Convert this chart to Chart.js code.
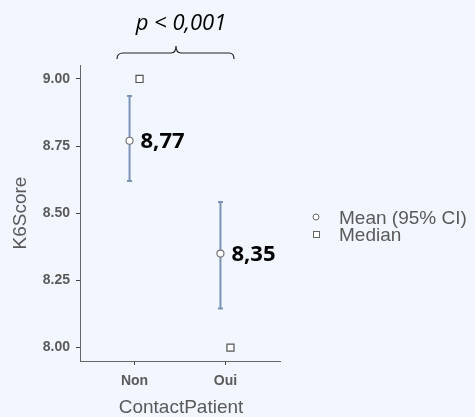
<!DOCTYPE html>
<html>
<head>
<meta charset="utf-8">
<script src="https://cdn.jsdelivr.net/npm/chart.js@4/dist/chart.umd.min.js"></script>
<style>
  html, body { margin: 0; padding: 0; background: #f2f6fe; }
  #wrap { width: 475px; height: 417px; position: relative; }
</style>
</head>
<body>
<div id="wrap"><canvas id="myChart"></canvas></div>
<script>
// data
const categories = ["Non", "Oui"];
const means = [8.77, 8.35];
const ciLow = [8.62, 8.145];
const ciHigh = [8.937, 8.542];
const medians = [9.0, 8.0];
const yTicks = [8.0, 8.25, 8.5, 8.75, 9.0];

const dodge = 0.055;
const gray = "#5a5a5a";
const barColor = "#7c93b8";

const meanPoints = categories.map((c, i) => ({ x: i + 1 - dodge, y: means[i] }));
const medianPoints = categories.map((c, i) => ({ x: i + 1 + dodge, y: medians[i] }));

// background + error bars + labels
const extras = {
  id: "extras",
  beforeDraw(chart) {
    const ctx = chart.ctx;
    ctx.save();
    ctx.fillStyle = "#f2f6fe";
    ctx.fillRect(0, 0, chart.width, chart.height);
    ctx.restore();
  },
  beforeDatasetsDraw(chart) {
    const ctx = chart.ctx;
    const xs = chart.scales.x;
    const ys = chart.scales.y;
    ctx.save();
    ctx.strokeStyle = barColor;
    ctx.lineWidth = 2;
    categories.forEach((c, i) => {
      const px = xs.getPixelForValue(i + 1 - dodge);
      const top = ys.getPixelForValue(ciHigh[i]);
      const bot = ys.getPixelForValue(ciLow[i]);
      ctx.beginPath();
      ctx.moveTo(px, top);
      ctx.lineTo(px, bot);
      ctx.moveTo(px - 2.5, top);
      ctx.lineTo(px + 2.5, top);
      ctx.moveTo(px - 2.5, bot);
      ctx.lineTo(px + 2.5, bot);
      ctx.stroke();
    });
    ctx.restore();
  },
  afterDraw(chart) {
    const ctx = chart.ctx;
    const xs = chart.scales.x;
    const ys = chart.scales.y;
    ctx.save();
    // mean labels
    ctx.fillStyle = "#000";
    ctx.font = "bold 22px 'Open Sans'";
    ctx.textBaseline = "middle";
    ctx.textAlign = "left";
    categories.forEach((c, i) => {
      const px = xs.getPixelForValue(i + 1 - dodge);
      const py = ys.getPixelForValue(means[i]);
      ctx.fillText(means[i].toFixed(2).replace(".", ","), px + 11, py + 1);
    });

    // p value + brace
    ctx.font = "italic 22px 'Open Sans'";
    ctx.textAlign = "center";
    ctx.fillText("p < 0,001", 181, 24);
    ctx.strokeStyle = "#222";
    ctx.lineWidth = 1.2;
    ctx.beginPath();
    ctx.moveTo(117, 59);
    ctx.quadraticCurveTo(117, 53, 123, 53);
    ctx.lineTo(171, 53);
    ctx.quadraticCurveTo(176, 53, 176, 46);
    ctx.quadraticCurveTo(176, 53, 181, 53);
    ctx.lineTo(229, 53);
    ctx.quadraticCurveTo(234, 53, 234, 59);
    ctx.stroke();

    // axis titles
    ctx.fillStyle = gray;
    ctx.font = "19px 'Liberation Sans'";
    ctx.fillText("ContactPatient", 181, 408);
    ctx.save();
    ctx.translate(21, 213);
    ctx.rotate(-Math.PI / 2);
    ctx.font = "19px 'Liberation Sans'";
    ctx.fillText("K6Score", 0, 0);
    ctx.restore();

    // legend
    ctx.textAlign = "left";
    ctx.font = "19px 'Liberation Sans'";
    ctx.fillText("Mean (95% CI)", 339, 219);
    ctx.fillText("Median", 339, 236);
    ctx.strokeStyle = "#666";
    ctx.lineWidth = 1;
    ctx.fillStyle = "#fff";
    ctx.beginPath();
    ctx.arc(316, 217, 3, 0, Math.PI * 2);
    ctx.fill();
    ctx.stroke();
    ctx.fillRect(313, 231, 6, 6);
    ctx.strokeRect(313.5, 231.5, 6, 6);
    ctx.restore();
  },
};

const ctx = document.getElementById("myChart").getContext("2d");
const myChart = new Chart(ctx, {
  type: "scatter",
  data: {
    datasets: [
      {
        label: "Mean (95% CI)",
        data: meanPoints,
        pointStyle: "circle",
        pointRadius: 3.5,
        pointBackgroundColor: "#fff",
        pointBorderColor: "#777",
        pointBorderWidth: 1.2,
      },
      {
        label: "Median",
        data: medianPoints,
        pointStyle: "rect",
        pointRadius: 5,
        pointBackgroundColor: "#fff",
        pointBorderColor: "#555",
        pointBorderWidth: 1.2,
      },
    ],
  },
  options: {
    responsive: true,
    maintainAspectRatio: false,
    animation: false,
    events: [],
    layout: { padding: { left: 0, top: 65, right: 195, bottom: 0 } },
    plugins: {
      legend: { display: false },
      tooltip: { enabled: false },
    },
    scales: {
      x: {
        type: "linear",
        min: 0.4,
        max: 2.6,
        afterFit(scale) {
          scale.height = 56;
        },
        afterBuildTicks(scale) {
          scale.ticks = categories.map((c, i) => ({ value: i + 1 }));
        },
        ticks: {
          color: gray,
          font: { family: "Liberation Sans", size: 14, weight: "bold" },
          padding: 8,
          callback: (v) => categories[v - 1],
        },
        grid: { drawOnChartArea: false, drawTicks: true, tickLength: 4, color: "#444" },
        border: { display: true, color: "#666", width: 1 },
      },
      y: {
        min: 7.95,
        max: 9.052,
        afterFit(scale) {
          scale.width = 80;
        },
        afterBuildTicks(scale) {
          scale.ticks = yTicks.map((v) => ({ value: v }));
        },
        ticks: {
          color: gray,
          font: { family: "Liberation Sans", size: 14, weight: "bold" },
          padding: 6,
          callback: (v) => v.toFixed(2),
        },
        grid: { drawOnChartArea: false, drawTicks: true, tickLength: 4, color: "#444" },
        border: { display: true, color: "#666", width: 1 },
      },
    },
  },
  plugins: [extras],
});
</script>
</body>
</html>
